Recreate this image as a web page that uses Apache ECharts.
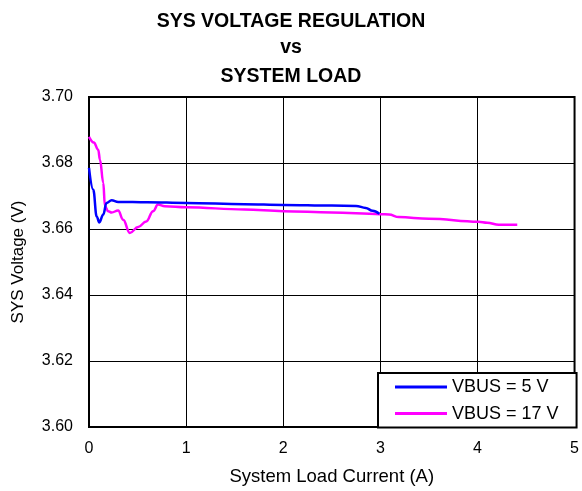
<!DOCTYPE html>
<html>
<head>
<meta charset="utf-8">
<script src="https://cdn.jsdelivr.net/npm/echarts@6/dist/echarts.min.js"></script>
<style>
  html, body { margin: 0; padding: 0; background: #fff; }
  #main { width: 582px; height: 491px; }
</style>
</head>
<body>
<div id="main"></div>
<script>
// values
var titleLines = ['SYS VOLTAGE REGULATION', 'vs', 'SYSTEM LOAD'];
var xTicks = [0, 1, 2, 3, 4, 5];
var yTicks = [3.60, 3.62, 3.64, 3.66, 3.68, 3.70];

var vbus5Load = [0, 0.044, 0.079, 0.106, 0.147, 0.18, 0.233, 0.30, 0.6, 1.0, 1.6, 2.0, 2.5, 2.75, 2.85, 2.92, 2.99];
var vbus5Volt = [3.6785, 3.6719, 3.6638, 3.662, 3.6644, 3.6679, 3.6687, 3.6682, 3.6681, 3.6679, 3.6675, 3.6673, 3.6671, 3.6670, 3.6664, 3.6655, 3.6646];

var vbus17Load = [0, 0.05, 0.095, 0.113, 0.147, 0.164, 0.198, 0.233, 0.30, 0.352, 0.42, 0.506, 0.59, 0.66, 0.71, 0.78, 1.0, 1.6, 2.0, 2.5, 3.0, 3.09, 3.19, 3.5, 4.01, 4.1, 4.22, 4.41];
var vbus17Volt = [3.6879, 3.6862, 3.684, 3.681, 3.674, 3.6669, 3.6654, 3.665, 3.6656, 3.6628, 3.6588, 3.6606, 3.6623, 3.6654, 3.6674, 3.6669, 3.6666, 3.6659, 3.6654, 3.6650, 3.6645, 3.6644, 3.6636, 3.6631, 3.6622, 3.6619, 3.6613, 3.6613];

function pairs(xs, ys) {
    return xs.map(function (x, i) { return [x, ys[i]]; });
}

var font = 'Liberation Sans, Arial, sans-serif';
var titleCenters = [22, 47.5, 77];

var myChart = echarts.init(document.getElementById('main'));
var option = {
    animation: false,
    backgroundColor: '#fff',
    title: titleLines.map(function (t, i) {
        return {
            text: t,
            left: 'center',
            top: titleCenters[i] - 11,
            padding: 0,
            textStyle: {
                fontFamily: font,
                fontSize: 19.5,
                fontWeight: 'bold',
                color: '#000',
                lineHeight: 22
            }
        };
    }),
    legend: {
        orient: 'vertical',
        left: 378,
        top: 373,
        padding: [5, 18, 5, 17],
        itemGap: 8.6,
        itemWidth: 52,
        itemHeight: 3,
        icon: 'rect',
        backgroundColor: '#fff',
        borderColor: '#000',
        borderWidth: 2,
        borderRadius: 0,
        textStyle: { fontFamily: font, fontSize: 18, color: '#000' },
        data: ['VBUS = 5 V', 'VBUS = 17 V']
    },
    grid: {
        left: 89,
        top: 97,
        right: 6,
        bottom: 63,
        show: true,
        borderColor: '#000',
        borderWidth: 2,
        backgroundColor: 'transparent'
    },
    xAxis: {
        type: 'value',
        min: xTicks[0],
        max: xTicks[xTicks.length - 1],
        interval: 1,
        name: 'System Load Current (A)',
        nameLocation: 'middle',
        nameGap: 40,
        nameTextStyle: { fontFamily: font, fontSize: 18.5, color: '#000' },
        axisLine: { show: false },
        axisTick: { show: false },
        axisLabel: { fontFamily: font, fontSize: 16, color: '#000', margin: 14 },
        splitLine: { lineStyle: { color: '#000', width: 1 } }
    },
    yAxis: {
        type: 'value',
        min: yTicks[0],
        max: yTicks[yTicks.length - 1],
        interval: 0.02,
        name: 'SYS Voltage (V)',
        nameLocation: 'middle',
        nameGap: 62,
        nameTextStyle: { fontFamily: font, fontSize: 17, color: '#000' },
        axisLine: { show: false },
        axisTick: { show: false },
        axisLabel: {
            fontFamily: font, fontSize: 16, color: '#000', margin: 16,
            formatter: function (v) { return v.toFixed(2); }
        },
        splitLine: { lineStyle: { color: '#000', width: 1 } }
    },
    series: [
        {
            name: 'VBUS = 5 V',
            type: 'line',
            data: pairs(vbus5Load, vbus5Volt),
            smooth: 0.4,
            smoothMonotone: 'x',
            showSymbol: false,
            color: '#0000ff',
            lineStyle: { color: '#0000ff', width: 2.5 },
            z: 3
        },
        {
            name: 'VBUS = 17 V',
            type: 'line',
            data: pairs(vbus17Load, vbus17Volt),
            smooth: 0.4,
            smoothMonotone: 'x',
            showSymbol: false,
            color: '#ff00ff',
            lineStyle: { color: '#ff00ff', width: 2.5 },
            z: 2
        }
    ]
};
myChart.setOption(option);
</script>
</body>
</html>
